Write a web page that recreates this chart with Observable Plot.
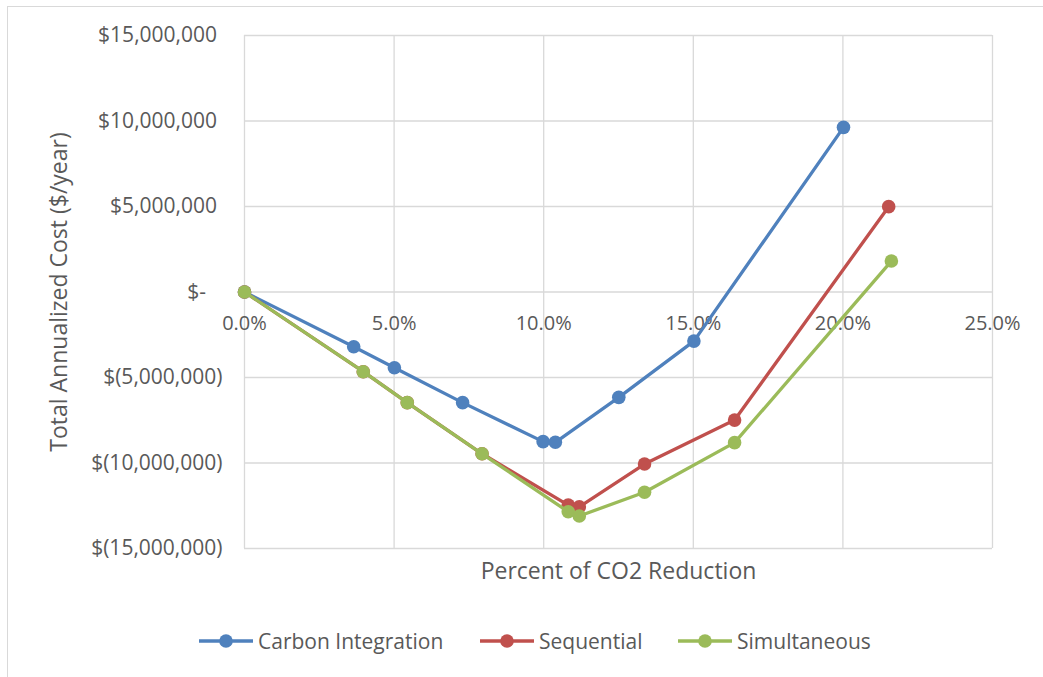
<!DOCTYPE html>
<html>
<head>
<meta charset="utf-8">
<script src="https://cdn.jsdelivr.net/npm/d3@7"></script>
<script src="https://cdn.jsdelivr.net/npm/@observablehq/plot@0.6"></script>
<style>
  html, body { margin: 0; padding: 0; background: #fff; }
  #wrap { position: relative; width: 1043px; height: 677px; overflow: hidden; font-family: "Open Sans", sans-serif; color: #595959; }
  #frame { position: absolute; left: 7px; top: 6px; right: -10px; bottom: -10px; border-left: 1.5px solid #d9d9d9; border-top: 1.5px solid #d9d9d9; }
  #chart { position: absolute; left: 0; top: 0; }
  .leg { position: absolute; top: 627px; height: 28px; display: flex; align-items: center; font-size: 21px; white-space: nowrap; }
  .leg svg { margin-right: 5px; }
</style>
</head>
<body>
<div id="wrap">
  <div id="frame"></div>
  <div id="chart"></div>
</div>
<script>
// ---- data (x: percent of CO2 reduction, y: total annualized cost in $ millions) ----
const seriesNames = ["Carbon Integration", "Sequential", "Simultaneous"];
const seriesColors = ["#4f81bd", "#c0504d", "#9bbb59"];

const carbonX = [0, 3.65, 5.01, 7.29, 9.98, 10.39, 12.51, 15.02, 20.02];
const carbonY = [0, -3.20, -4.43, -6.47, -8.75, -8.79, -6.16, -2.87, 9.63];

const seqX = [0, 3.97, 5.44, 7.94, 10.82, 11.19, 13.37, 16.38, 21.53];
const seqY = [0, -4.66, -6.47, -9.46, -12.46, -12.56, -10.06, -7.49, 4.99];

const simX = [0, 3.97, 5.44, 7.94, 10.82, 11.19, 13.37, 16.38, 21.62];
const simY = [0, -4.66, -6.47, -9.46, -12.85, -13.10, -11.71, -8.81, 1.81];

const xTicks = [0, 5, 10, 15, 20, 25];
const xTickLabels = ["0.0%", "5.0%", "10.0%", "15.0%", "20.0%", "25.0%"];
const yTicks = [15, 10, 5, 0, -5, -10, -15];
const yTickLabels = ["$15,000,000\u00a0", "$10,000,000\u00a0", "$5,000,000\u00a0", "$-\u00a0\u00a0\u00a0",
                     "$(5,000,000)", "$(10,000,000)", "$(15,000,000)"];

const xTitle = "Percent of CO2 Reduction";
const yTitle = "Total Annualized Cost ($/year)";

// ---- build tables ----
const allX = [carbonX, seqX, simX];
const allY = [carbonY, seqY, simY];
const tables = allX.map((xs, i) => xs.map((x, j) => ({x, y: allY[i][j], s: seriesNames[i]})));
const xTickData = xTicks.map((v, i) => ({v, label: xTickLabels[i]}));

const grid = "#d9d9d9";
const txt = "#595959";

const marks = [
  Plot.gridX(xTicks, {stroke: grid, strokeOpacity: 1, strokeWidth: 1.3}),
  Plot.gridY(yTicks, {stroke: grid, strokeOpacity: 1, strokeWidth: 1.3}),
  Plot.axisY(yTicks, {
    tickSize: 0, tickPadding: 22, fontSize: 21, fill: txt, label: null,
    tickFormat: d => yTickLabels[yTicks.indexOf(d)]
  }),
  Plot.text(xTickData, {x: "v", y: d => 0, text: "label", dy: 32, fontSize: 20, fill: txt}),
  Plot.text([yTitle], {frameAnchor: "left", textAnchor: "middle", rotate: -90, dx: -185, fontSize: 23, fill: txt, text: d => d}),
  Plot.text([xTitle], {frameAnchor: "bottom", textAnchor: "middle", lineAnchor: "middle", dy: 23, fontSize: 23, fill: txt, text: d => d})
];
tables.forEach((t, i) => {
  marks.push(Plot.line(t, {x: "x", y: "y", stroke: seriesColors[i], strokeWidth: 3.3}));
  marks.push(Plot.dot(t, {x: "x", y: "y", r: 6.8, fill: seriesColors[i], stroke: "none"}));
});

const chart = Plot.plot({
  width: 1043,
  height: 600,
  marginLeft: 244,
  marginRight: 51,
  marginTop: 35,
  marginBottom: 52,
  style: {fontFamily: "'Open Sans', sans-serif", background: "transparent", overflow: "visible"},
  x: {domain: [0, 25], axis: null},
  y: {domain: [-15, 15], axis: null},
  marks
});
document.getElementById("chart").appendChild(chart);

// ---- legend ----
const legLeft = [199, 480, 678];
const wrap = document.getElementById("wrap");
seriesNames.forEach((name, i) => {
  const item = document.createElement("div");
  item.className = "leg";
  item.style.left = legLeft[i] + "px";
  const c = seriesColors[i];
  item.innerHTML = `<svg width="54" height="20"><line x1="0" y1="10" x2="54" y2="10" stroke="${c}" stroke-width="3.3"/><circle cx="27" cy="10" r="6.8" fill="${c}"/></svg><span>${name}</span>`;
  wrap.appendChild(item);
});
</script>
</body>
</html>
